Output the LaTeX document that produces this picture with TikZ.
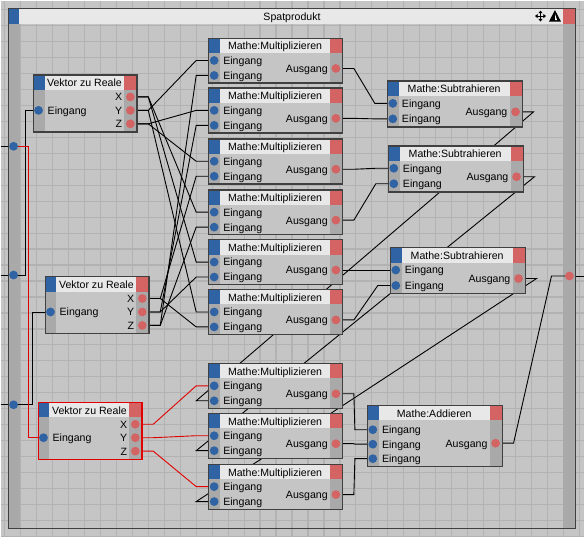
\documentclass[tikz,border=0pt]{standalone}
\usepackage{fontspec}
\setmainfont{Liberation Sans}
\usetikzlibrary{calc,arrows.meta}
\definecolor{bg}{HTML}{C5C5C5}
\definecolor{gridc}{HTML}{B2B2B2}
\definecolor{col}{HTML}{A9A9A9}
\definecolor{tbar}{HTML}{E8E8E8}
\definecolor{xblue}{HTML}{2F63A3}
\definecolor{xred}{HTML}{D46464}
\definecolor{edge}{HTML}{404040}
\definecolor{selred}{HTML}{E00000}
\pgfdeclarelayer{back}
\pgfdeclarelayer{wirelayer}
\pgfsetlayers{back,wirelayer,main}
\tikzset{
  bport/.style={circle, fill=xblue, minimum size=8.8pt, inner sep=0pt},
  rport/.style={circle, fill=xred, minimum size=8.8pt, inner sep=0pt},
  lbl/.style={font=\fontsize{10.6}{12}\selectfont, inner sep=0pt},
  wire/.style={draw=black, line width=0.9pt},
  selwire/.style={draw=selred, line width=0.9pt},
  boxedge/.style={draw=#1, line width=1.3pt, inner sep=0pt, anchor=north west, fill=none},
}
% #1 name, #2 x1, #3 y1, #4 x2, #5 y2, #6 title, #7 edge colour
\newcommand\xbox[7]{%
  \fill[bg] (#2,#3) rectangle (#4,#5);
  \fill[col] (#2,#3) rectangle (#2+12,#5);
  \fill[col] (#4-12,#3) rectangle (#4,#5);
  \fill[tbar] (#2+12,#3) rectangle (#4-12,#3+15.5);
  \fill[xblue] (#2,#3) rectangle (#2+12,#3+15.5);
  \fill[xred] (#4-12,#3) rectangle (#4,#3+15.5);
  \node[lbl, anchor=base] (#1t) at ({(#2+#4)/2},#3+12.5) {#6};
  \node[boxedge=#7, minimum width={#4-#2}, minimum height={#5-#3}] (#1) at (#2,#3) {};
}
% input port: #1 name, #2 x, #3 y, #4 label
\newcommand\inport[4]{%
  \node[bport] (#1) at (#2,#3) {};
  \node[lbl, anchor=base west] (#1l) at (#2+9,#3+3.9) {#4};
}
\newcommand\outport[4]{%
  \node[rport] (#1) at (#2,#3) {};
  \node[lbl, anchor=base east] (#1l) at (#2-8,#3+3.9) {#4};
}
\newcommand\xwire[3][wire]{\draw[#1] (#2.center) -- ++(18,0) -- ($(#3.center)+(-18,0)$) -- (#3.center);}
% multiplier box at top y
\newcommand\xmult[2]{%
  \xbox{#1}{208}{#2}{342}{#2+45}{Mathe:Multiplizieren}{edge}
  \inport{#1a}{214}{#2+23}{Eingang}
  \inport{#1b}{214}{#2+38}{Eingang}
  \outport{#1o}{336}{#2+31}{Ausgang}
}
\newcommand\xsubt[3]{%
  \xbox{#1}{#2}{#3}{#2+135}{#3+46}{Mathe:Subtrahieren}{edge}
  \inport{#1a}{#2+6}{#3+23}{Eingang}
  \inport{#1b}{#2+6}{#3+38.5}{Eingang}
  \outport{#1o}{#2+129}{#3+31.5}{Ausgang}
}
\newcommand\xvreal[4]{%
  \xbox{#1}{#2}{#3}{#2+104}{#3+57}{Vektor zu Reale}{#4}
  \inport{#1i}{#2+6}{#3+36}{Eingang}
  \outport{#1x}{#2+98}{#3+22.5}{X}
  \outport{#1y}{#2+98}{#3+36}{Y}
  \outport{#1z}{#2+98}{#3+49.5}{Z}
}
\begin{document}
\begin{tikzpicture}[x=1pt,y=-1pt]
\begin{pgfonlayer}{back}
  \fill[bg] (0,0) rectangle (585,537);
  \foreach \gx in {4,20,...,585} \draw[gridc, line width=1.2pt] (\gx,0) -- (\gx,537);
  \foreach \gy in {9,25,...,537} \draw[gridc, line width=1.2pt] (0,\gy) -- (585,\gy);
  \useasboundingbox (0,0) rectangle (585,537);
  % group frame
  \fill[col] (7,23) rectangle (19,528);
  \fill[col] (564,23) rectangle (576,528);
  \fill[tbar] (7,7) rectangle (576,23);
  \fill[xblue] (7,7) rectangle (18,23);
  \fill[xred] (564,7) rectangle (576,23);
\end{pgfonlayer}
\node[draw=edge, line width=1pt, inner sep=0pt, anchor=north west,
      minimum width=569, minimum height=521] (grp) at (7,7) {};
\node[lbl, anchor=base] (grpt) at (292,20) {Spatprodukt};
% title icons
\draw[line width=1.1pt, {Triangle[length=2.6pt,width=4pt]}-{Triangle[length=2.6pt,width=4pt]}] (535.5,15.5) -- (546.5,15.5);
\draw[line width=1.1pt, {Triangle[length=2.6pt,width=4pt]}-{Triangle[length=2.6pt,width=4pt]}] (541,10) -- (541,21);
\fill[black] (549.5,21) -- (561.5,21) -- (555.5,9.5) -- cycle;
\fill[white] (555.6,13.5) -- (557.6,19.5) -- (555.6,19.5) -- cycle;
% frame ports
\node[bport] (lp1) at (13,146) {};
\node[bport] (lp2) at (13,275) {};
\node[bport] (lp3) at (13,405) {};
\node[rport] (rp) at (570,276) {};
\coordinate (ext1) at (0,146);
\coordinate (ext2) at (0,275);
\coordinate (ext3) at (0,405);
\coordinate (ext4) at (585,276);
% nodes
\xvreal{va}{32}{74}{edge}
\xvreal{vb}{44}{276}{edge}
\xvreal{vc}{37}{402}{selred}
\xmult{ma}{37}
\xmult{mb}{87}
\xmult{mc}{138}
\xmult{md}{189}
\xmult{me}{239}
\xmult{mf}{289}
\xmult{mg}{363}
\xmult{mh}{413}
\xmult{mi}{464}
\xsubt{sa}{387}{80}
\xsubt{sb}{388}{145}
\xsubt{sc}{390}{247}
\xbox{ad}{367}{405}{502}{466}{Mathe:Addieren}{edge}
\inport{ada}{373}{430}{Eingang}
\inport{adb}{373}{444.5}{Eingang}
\inport{adc}{373}{459}{Eingang}
\outport{ado}{496}{443.5}{Ausgang}
% wires
\begin{pgfonlayer}{wirelayer}
  \draw[wire] (ext1) -- (ext1 -| grp.west);
  \draw[wire] (ext2) -- (ext2 -| grp.west);
  \draw[wire] (ext3) -- (ext3 -| grp.west);
  \draw[wire] (ext4) -- (ext4 -| grp.east);
  \draw[wire] (lp2.center) -- ++(12,0) |- (vai.center);
  \draw[wire] (lp3.center) -- ++(19,0) |- (vbi.center);
  \draw[selwire] (lp1.center) -- ++(15,0) |- (vci.center);
  \xwire{vay}{maa} \xwire{vbz}{mab}
  \xwire{vaz}{mba} \xwire{vby}{mbb}
  \xwire{vaz}{mca} \xwire{vbx}{mcb}
  \xwire{vax}{mda} \xwire{vbz}{mdb}
  \xwire{vax}{mea} \xwire{vby}{meb}
  \xwire{vay}{mfa} \xwire{vbx}{mfb}
  \xwire{mao}{saa} \xwire{mbo}{sab}
  \xwire{mco}{sba} \xwire{mdo}{sbb}
  \xwire{meo}{sca} \xwire{mfo}{scb}
  \xwire{sao}{mgb} \xwire{sbo}{mhb} \xwire{sco}{mib}
  \xwire[selwire]{vcx}{mga} \xwire[selwire]{vcy}{mha} \xwire[selwire]{vcz}{mia}
  \xwire{mgo}{ada} \xwire{mho}{adb} \xwire{mio}{adc}
  \xwire{ado}{rp}
\end{pgfonlayer}
\end{tikzpicture}
\end{document}
